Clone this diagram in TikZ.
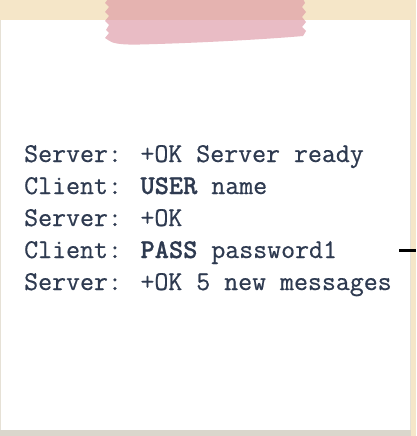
\documentclass[tikz,border=0pt]{standalone}
\usepackage{fontspec}
\newfontfamily\monoreg{Latin Modern Mono}[FakeBold=0.6]
\newfontfamily\monobf{lmmonolt10-bold.otf}[FakeBold=0.8]
\newcommand{\kw}[1]{{\monobf #1}}
\definecolor{beige}{HTML}{F5E6C8}
\definecolor{shadowc}{HTML}{DAD6CC}
\definecolor{edgec}{HTML}{E6E1D6}
\definecolor{tapec}{RGB}{220,148,162}
\definecolor{txt}{HTML}{2E3A50}
\tikzset{
  line/.style={anchor=base west, inner sep=0pt, text=txt, font=\monoreg\fontsize{27.1}{32}\selectfont},
  tape/.style={fill=tapec, fill opacity=0.62},
}
\begin{document}
\begin{tikzpicture}[x=1pt,y=-1pt]
\useasboundingbox (0,0) rectangle (416,436);
\fill[beige] (0,0) rectangle (416,436);
\fill[shadowc] (0,428) rectangle (411,436);
\fill[edgec] (409,20) rectangle (411,430);
\fill[white] (0,20) rectangle (410,430);
\fill[edgec] (0,20) rectangle (1,430);
\fill[tape] (108,-1) -- (105,3) -- (109,7) -- (105,12) -- (109,16) -- (105,21) -- (109,25) -- (106,30) -- (109,33) -- (105,38) -- (108,40)
  .. controls (112,43) and (118,45) .. (140,44.5)
  .. controls (200,43) and (270,39) .. (303,36)
  -- (306,31) -- (302,27) -- (306,22) -- (302,17) -- (306,12) -- (302,7) -- (305,3) -- (303,-1) -- cycle;
\node[line] (l1) at (24,162) {Server: +OK Server ready};
\node[line] (l2) at (24,194) {Client: \kw{USER} name};
\node[line] (l3) at (24,226) {Server: +OK};
\node[line] (l4) at (24,258) {Client: \kw{PASS} password1};
\node[line] (l5) at (24,290) {Server: +OK 5 new messages};
\coordinate (s1) at (399,250);
\coordinate (s2) at (416,250);
\draw[line width=3pt, black] (s1) -- (s2);
\end{tikzpicture}
\end{document}
